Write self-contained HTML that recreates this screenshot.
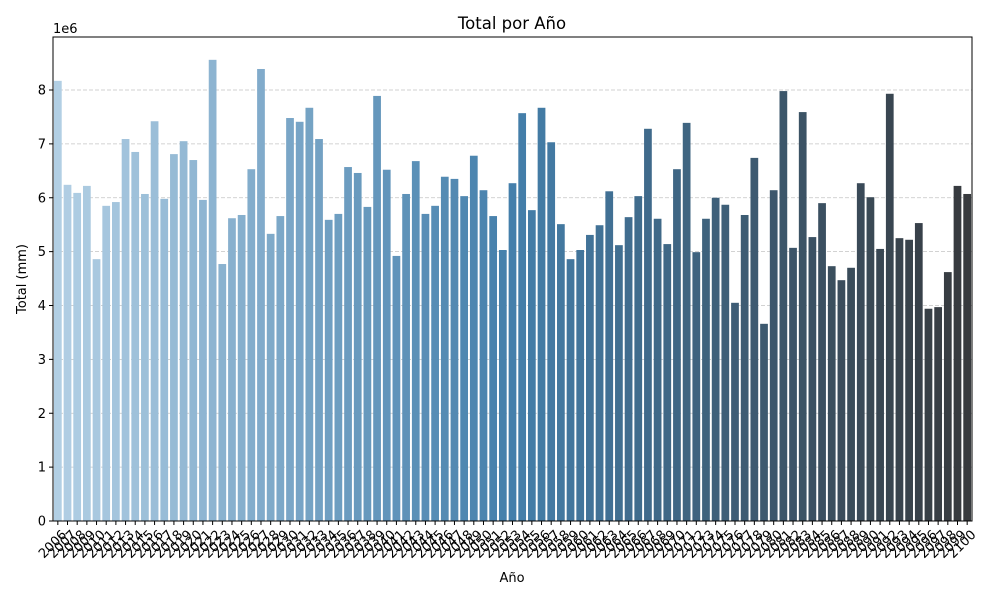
<!DOCTYPE html>
<html><head><meta charset="utf-8"><style>
body{margin:0;background:#fff;}
svg text{font-family:"DejaVu Sans","Liberation Sans",sans-serif;fill:#000;}
</style></head><body>
<svg id="chart" width="1000" height="600" xmlns="http://www.w3.org/2000/svg">
<rect width="1000" height="600" fill="#fff"/>
<text x="512" y="29" font-size="16.5" text-anchor="middle">Total por Año</text>
<text x="53" y="33" font-size="13">1e6</text>
<text x="512" y="582" font-size="13" text-anchor="middle">Año</text>
<text transform="translate(26,279) rotate(-90)" font-size="13" text-anchor="middle">Total (mm)</text>
<g id="grid"></g><g id="bars"></g><g id="axes"></g>
</svg>
<script>
const startYear = 2006;
const totals = [8.17,6.24,6.09,6.22,4.86,5.85,5.92,7.09,6.85,6.07,7.42,5.98,6.81,7.05,6.70,5.96,8.56,4.77,5.62,5.68,6.53,8.39,5.33,5.66,7.48,7.41,7.67,7.09,5.59,5.70,6.57,6.46,5.83,7.89,6.52,4.92,6.07,6.68,5.70,5.85,6.39,6.35,6.03,6.78,6.14,5.66,5.03,6.27,7.57,5.77,7.67,7.03,5.51,4.86,5.03,5.31,5.49,6.12,5.12,5.64,6.03,7.28,5.61,5.14,6.53,7.39,4.99,5.61,6.00,5.87,4.05,5.68,6.74,3.66,6.14,7.98,5.07,7.59,5.27,5.90,4.73,4.47,4.70,6.27,6.01,5.05,7.93,5.25,5.22,5.53,3.94,3.97,4.62,6.22,6.07];
const years = totals.map((_,i)=>String(startYear+i));
const yTicks = [0,1,2,3,4,5,6,7,8];
const NS="http://www.w3.org/2000/svg";
const L=53,R=972,T=37,B=521,yMax=(B-T)/53.875;
const slot=(R-L)/years.length;
const xs=i=>L+slot*(i+0.5);
const ys=v=>B-(v/yMax)*(B-T);
function mk(tag,attrs,parent){const e=document.createElementNS(NS,tag);for(const k in attrs)e.setAttribute(k,attrs[k]);parent.appendChild(e);return e;}
function col(t){const s=[[178,207,228],[68,127,171],[55,58,62]];let a,b,u;if(t<0.5){a=s[0];b=s[1];u=t*2;}else{a=s[1];b=s[2];u=(t-0.5)*2;}return `rgb(${a.map((c,k)=>Math.round(c+(b[k]-c)*u)).join(',')})`;}
const grid=document.getElementById('grid'),bars=document.getElementById('bars'),axes=document.getElementById('axes');
yTicks.forEach(v=>{
  if(v>0){const g=mk('line',{x1:L,x2:R,y1:ys(v),y2:ys(v),stroke:'#c4c4c4','stroke-dasharray':'4,2','stroke-width':0.8},grid);
  
  }
  const t=mk('line',{x1:L-4,x2:L,y1:ys(v),y2:ys(v),stroke:'#000'},axes);
  
  
  const lb=mk('text',{x:L-7,y:ys(v)+4.5,'font-size':13,'text-anchor':'end'},axes);lb.textContent=v;
  
  
});
totals.forEach((v,i)=>{
  const w=slot*0.8;
  const r=mk('rect',{x:xs(i)-w/2,y:ys(v),width:w,height:B-ys(v),fill:col(i/(totals.length-1))},bars);
  
  
  const t=mk('line',{x1:xs(i),x2:xs(i),y1:B,y2:B+4,stroke:'#000'},axes);
  
  
  const lb=mk('text',{transform:`translate(${xs(i)+3},${B+8}) rotate(-45)`,'font-size':13,'text-anchor':'end',dy:'0.7em'},axes);lb.textContent=years[i];
  
  
});
const fr=mk('rect',{x:L,y:T,width:R-L,height:B-T,fill:'none',stroke:'#000','stroke-width':1},axes);


</script>
</body></html>
